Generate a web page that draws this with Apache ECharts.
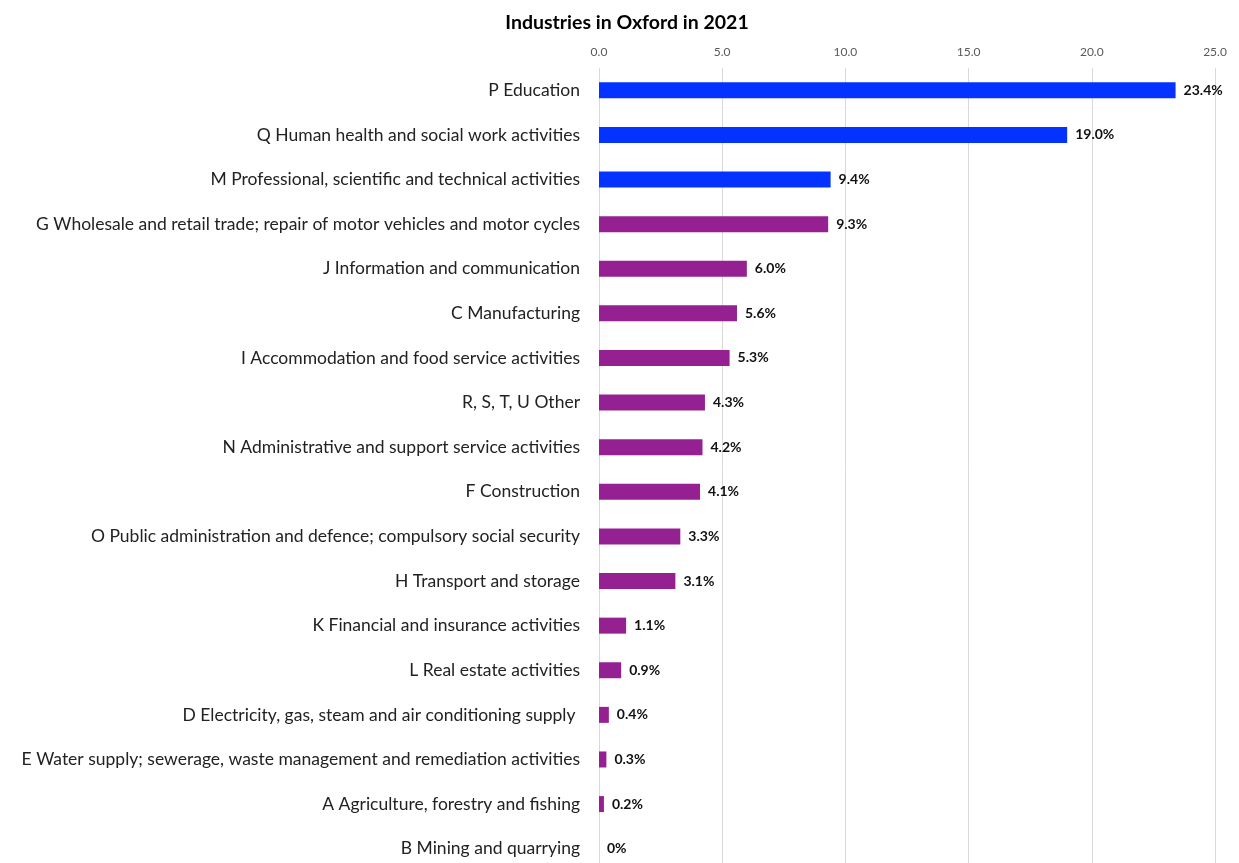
<!DOCTYPE html>
<html>
<head>
<meta charset="utf-8">
<title>Industries in Oxford in 2021</title>
<script src="https://cdn.jsdelivr.net/npm/echarts@6/dist/echarts.min.js"></script>
<style>
  html, body { margin: 0; padding: 0; background: #fff; overflow: hidden; }
  /* taller than the window: the last row is cut off in the original too */
  #chart { width: 1239px; height: 880px; }
</style>
</head>
<body>
<div id="chart"></div>
<script>
// industries, top to bottom
const industries = [
  'P Education',
  'Q Human health and social work activities',
  'M Professional, scientific and technical activities',
  'G Wholesale and retail trade; repair of motor vehicles and motor cycles',
  'J Information and communication',
  'C Manufacturing',
  'I Accommodation and food service activities',
  'R, S, T, U Other',
  'N Administrative and support service activities',
  'F Construction',
  'O Public administration and defence; compulsory social security',
  'H Transport and storage',
  'K Financial and insurance activities',
  'L Real estate activities',
  'D Electricity, gas, steam and air conditioning supply ',
  'E Water supply; sewerage, waste management and remediation activities',
  'A Agriculture, forestry and fishing',
  'B Mining and quarrying'
];
// share of employment, %
const shares = [23.4, 19.0, 9.4, 9.3, 6.0, 5.6, 5.3, 4.3, 4.2, 4.1, 3.3, 3.1, 1.1, 0.9, 0.4, 0.3, 0.2, 0];
const axisTicks = [0, 5, 10, 15, 20, 25];
const topGroupSize = 3; // first three bars drawn in blue

const chart = echarts.init(document.getElementById('chart'));
const font = 'Lato, "Open Sans", sans-serif';

chart.setOption({
  animation: false,
  textStyle: { fontFamily: font },
  title: {
    text: 'Industries in Oxford in 2021',
    left: 622,
    textAlign: 'center',
    top: 8,
    textStyle: { fontSize: 19.5, fontWeight: 'bold', color: '#000', fontFamily: font }
  },
  grid: { left: 599, right: 24, top: 68, bottom: 9, containLabel: false },
  xAxis: {
    type: 'value',
    position: 'top',
    min: axisTicks[0],
    max: axisTicks[axisTicks.length - 1],
    interval: 5,
    axisLine: { show: false },
    axisTick: { show: false },
    axisLabel: {
      color: '#595959', fontSize: 12, margin: 10,
      formatter: v => v.toFixed(1)
    },
    splitLine: { lineStyle: { color: '#d9d9d9', width: 1 } }
  },
  yAxis: {
    type: 'category',
    inverse: true,
    data: industries,
    axisLine: { show: false },
    axisTick: { show: false },
    axisLabel: { color: '#222', fontSize: 17.5, margin: 19 }
  },
  series: [{
    type: 'bar',
    data: shares,
    barWidth: 16,
    itemStyle: {
      color: p => p.dataIndex < topGroupSize ? '#0433ff' : '#942092'
    },
    label: {
      show: true,
      position: 'right',
      distance: 8,
      color: '#111',
      fontSize: 14,
      fontWeight: 'bold',
      formatter: p => p.value === 0 ? '0%' : p.value.toFixed(1) + '%'
    }
  }]
});
</script>
</body>
</html>
